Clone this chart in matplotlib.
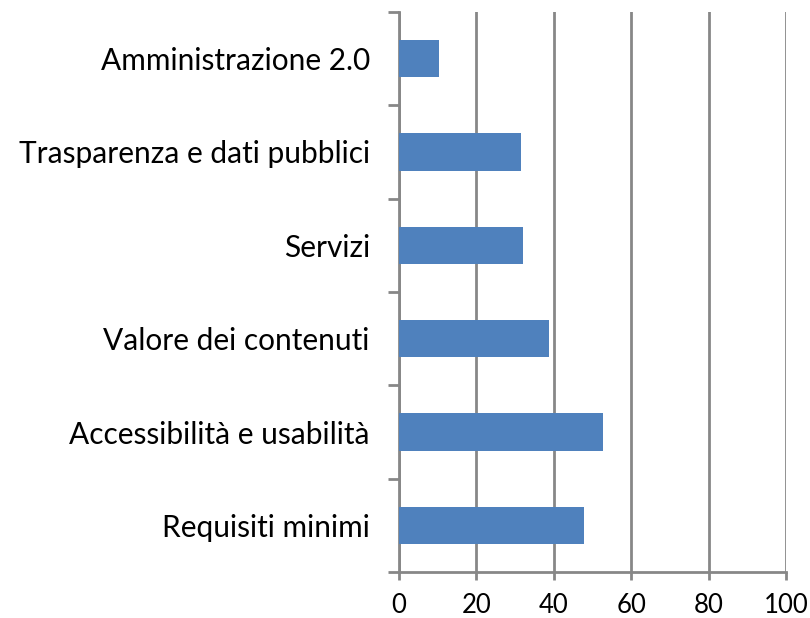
import matplotlib
matplotlib.use('Agg')
import matplotlib.pyplot as plt

# categories from bottom to top
categorie = ['Requisiti minimi', 'Accessibilità e usabilità', 'Valore dei contenuti',
             'Servizi', 'Trasparenza e dati pubblici', 'Amministrazione 2.0']
valori = [47.7, 52.7, 38.8, 32.1, 31.5, 10.4]
x_ticks = [0, 20, 40, 60, 80, 100]

plt.rcParams['font.family'] = ['Lato', 'DejaVu Sans']

fig = plt.figure(figsize=(8.1, 6.18), dpi=100)
ax = fig.add_axes([0.4926, 0.0744, 0.9706 - 0.4926, 0.9806 - 0.0744])

grigio = '#878787'
pos = list(range(len(categorie)))
ax.barh(pos, valori, height=0.4, color='#4F81BD', zorder=3)

ax.set_xlim(0, 100)
ax.set_ylim(-0.5, len(categorie) - 0.5)
ax.set_xticks(x_ticks)
ax.set_xticklabels([str(t) for t in x_ticks], fontsize=18.5, color='black')
ax.grid(axis='x', color=grigio, linewidth=2, zorder=0)

# category labels at centers, tick marks at boundaries
ax.set_yticks(pos)
ax.set_yticklabels(categorie, fontsize=21.5, color='black')
ax.set_yticks([p - 0.5 for p in pos] + [len(pos) - 0.5], minor=True)
ax.tick_params(axis='y', which='major', length=0, pad=21)
ax.tick_params(axis='y', which='minor', length=8, width=2, color=grigio, direction='out')
ax.tick_params(axis='x', length=6, width=2, color=grigio, direction='out', pad=9)

for s in ['top', 'right']:
    ax.spines[s].set_visible(False)
for s in ['left', 'bottom']:
    ax.spines[s].set_color(grigio)
    ax.spines[s].set_linewidth(2)

fig.savefig('out.png', dpi=100)
